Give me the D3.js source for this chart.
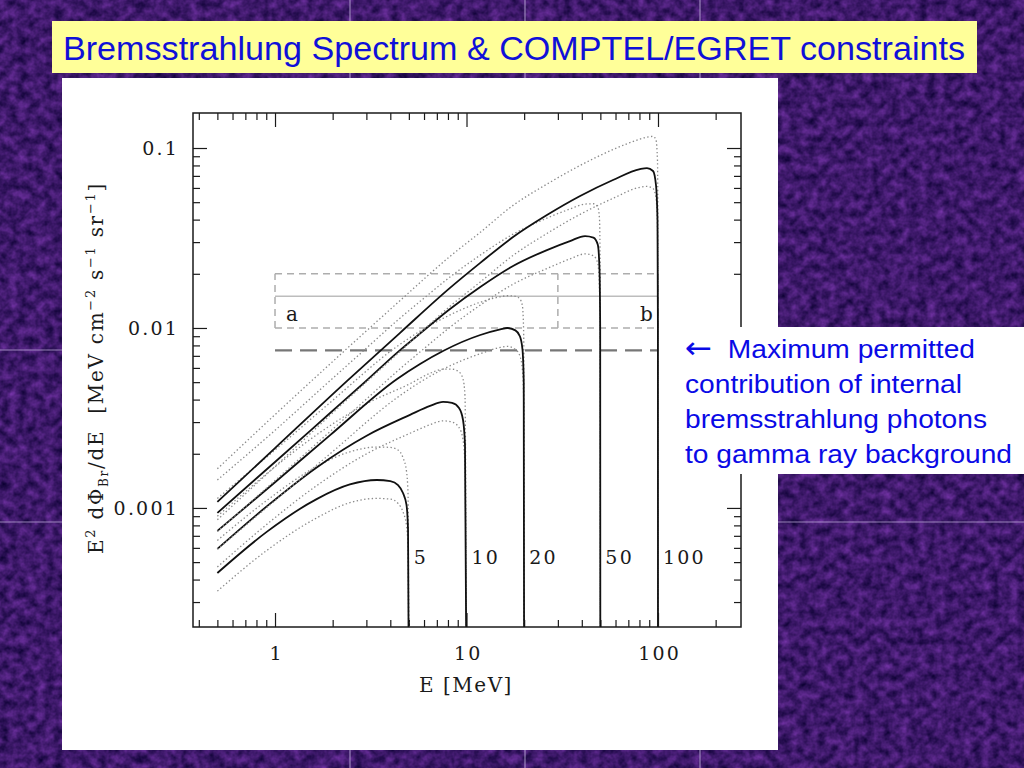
<!DOCTYPE html>
<html><head><meta charset="utf-8">
<script src="https://cdn.jsdelivr.net/npm/d3@7"></script>
<style>html,body{margin:0;padding:0;background:#3f1a6e;overflow:hidden}</style>
</head><body>
<svg id="c" width="1024" height="768"></svg>
<script>
// ---------------- data ----------------
const titleText = "Bremsstrahlung Spectrum & COMPTEL/EGRET constraints";
const noteArrow = "\u2190";
const noteLines = ["  Maximum permitted", "contribution of internal", "bremsstrahlung photons", "to gamma ray background"];

const massLabels = ["5", "10", "20", "50", "100"];
const massCutoffs = [5, 10, 20, 50, 100];

const energy5 = [0.5, 0.905, 1.65, 2.46, 3.4, 4.0, 4.39, 4.66, 4.86, 4.95, 5];
const solid5  = [0.000435, 0.000736, 0.00112, 0.00135, 0.00143, 0.00141, 0.00134, 0.00121, 0.00104, 0.00076, 0.0001];
const upper5  = [0.00066, 0.0011, 0.0017, 0.00205, 0.00218, 0.00217, 0.0021, 0.0019, 0.0016, 0.0012, 0.0001];
const lower5  = [0.000345, 0.00058, 0.00088, 0.00107, 0.00113, 0.00112, 0.00106, 0.00095, 0.0008, 0.0006, 0.0001];

const energy10 = [0.5, 0.905, 1.65, 3.01, 5.07, 6.45, 7.54, 8.4, 9.14, 9.59, 9.82, 10];
const solid10  = [0.000592, 0.00102, 0.00168, 0.00252, 0.00329, 0.00369, 0.00388, 0.00383, 0.00359, 0.00308, 0.00224, 0.0001];
const upper10  = [0.0009, 0.00155, 0.00255, 0.0038, 0.0049, 0.0056, 0.0059, 0.0059, 0.0057, 0.0052, 0.0042, 0.0001];
const lower10  = [0.00047, 0.00081, 0.00133, 0.002, 0.0026, 0.0029, 0.00305, 0.003, 0.0028, 0.0024, 0.0017, 0.0001];

const energy20 = [0.5, 1, 1.94, 4.34, 5.72, 7.54, 11.8, 15, 16.3, 18, 19, 19.6, 19.9, 20];
const solid20  = [0.000745, 0.00139, 0.00254, 0.00521, 0.00631, 0.00745, 0.00914, 0.00981, 0.01, 0.0097, 0.009, 0.0076, 0.005, 0.0001];
const upper20  = [0.00113, 0.0021, 0.00385, 0.0079, 0.0096, 0.0113, 0.0139, 0.0149, 0.0151, 0.015, 0.0145, 0.0132, 0.009, 0.0001];
const lower20  = [0.00059, 0.0011, 0.002, 0.0041, 0.005, 0.0059, 0.0072, 0.0078, 0.0079, 0.0076, 0.007, 0.0058, 0.0038, 0.0001];

const energy50 = [0.5, 1, 1.94, 2.95, 4.39, 5.93, 8.2, 11.8, 17.5, 26.3, 34.7, 41.6, 46, 48.5, 49.5, 49.9, 50];
const solid50  = [0.000938, 0.0018, 0.00337, 0.00501, 0.00736, 0.00962, 0.01275, 0.0169, 0.0221, 0.0271, 0.0304, 0.0324, 0.0318, 0.029, 0.021, 0.01, 0.0001];
const upper50  = [0.00143, 0.0027, 0.0051, 0.0076, 0.0111, 0.0145, 0.0192, 0.0254, 0.0332, 0.0408, 0.0458, 0.0488, 0.049, 0.047, 0.04, 0.02, 0.0001];
const lower50  = [0.00074, 0.00142, 0.00266, 0.00396, 0.0058, 0.0076, 0.0101, 0.0134, 0.0175, 0.0214, 0.0242, 0.0258, 0.0252, 0.0228, 0.016, 0.007, 0.0001];

const energy100 = [0.5, 1, 2.38, 4.5, 8.2, 11.8, 17.5, 26.3, 39.2, 58.2, 80.5, 87.6, 94.2, 97.6, 99.4, 99.9, 100];
const solid100  = [0.00108, 0.00215, 0.00508, 0.0094, 0.0167, 0.023, 0.032, 0.0424, 0.0541, 0.0664, 0.0764, 0.0774, 0.0745, 0.0623, 0.0398, 0.01, 0.0001];
const upper100  = [0.00165, 0.0033, 0.0077, 0.0142, 0.025, 0.034, 0.048, 0.063, 0.08, 0.098, 0.112, 0.115, 0.116, 0.111, 0.085, 0.03, 0.0001];
const lower100  = [0.00086, 0.0017, 0.004, 0.0074, 0.0132, 0.018, 0.0253, 0.0335, 0.0428, 0.0525, 0.0605, 0.0612, 0.0595, 0.053, 0.035, 0.008, 0.0001];

const xTickValues = [1, 10, 100];
const xTickLabels = ["1", "10", "100"];
const yTickValues = [0.001, 0.01, 0.1];
const yTickLabels = ["0.001", "0.01", "0.1"];

const boxEnergy = [1, 30, 100];          // box a: 1-30, box b: 30-100
const boxFlux = [0.01, 0.015, 0.02];     // bottom, middle line, top
const boxLabels = ["a", "b"];
const limitEnergy = [1, 100];
const limitFlux = 0.0075;

const series = [
  {label: massLabels[0], cutoff: massCutoffs[0], e: energy5,   s: solid5,   u: upper5,   l: lower5},
  {label: massLabels[1], cutoff: massCutoffs[1], e: energy10,  s: solid10,  u: upper10,  l: lower10},
  {label: massLabels[2], cutoff: massCutoffs[2], e: energy20,  s: solid20,  u: upper20,  l: lower20},
  {label: massLabels[3], cutoff: massCutoffs[3], e: energy50,  s: solid50,  u: upper50,  l: lower50},
  {label: massLabels[4], cutoff: massCutoffs[4], e: energy100, s: solid100, u: upper100, l: lower100}
];

// ---------------- drawing ----------------
const svg = d3.select("#c");
const defs = svg.append("defs");

// textured dark purple background
const f = defs.append("filter").attr("id", "tex").attr("filterUnits", "userSpaceOnUse")
  .attr("color-interpolation-filters", "sRGB")
  .attr("x", 0).attr("y", 0).attr("width", 1024).attr("height", 768);
f.append("feTurbulence").attr("type", "fractalNoise").attr("baseFrequency", 0.11)
  .attr("numOctaves", 3).attr("seed", 11).attr("result", "n");
f.append("feColorMatrix").attr("in", "n").attr("type", "matrix")
  .attr("values", "0.45 0 0 0 0.02  0.22 0 0 0 -0.01  0.5 0 0 0 0.17  0 0 0 0 1");
svg.append("rect").attr("width", 1024).attr("height", 768).attr("fill", "#3f1a6e").attr("filter", "url(#tex)");

// tile seams
const seamsX = [350, 525, 700], seamsY = [350, 522];
svg.selectAll(".sx").data(seamsX).enter().append("line")
  .attr("x1", d => d).attr("x2", d => d).attr("y1", 0).attr("y2", 768)
  .attr("stroke", "#b9a8d6").attr("stroke-width", 1.2).attr("opacity", 0.75);
svg.selectAll(".sy").data(seamsY).enter().append("line")
  .attr("y1", d => d).attr("y2", d => d).attr("x1", 0).attr("x2", 1024)
  .attr("stroke", "#b9a8d6").attr("stroke-width", 1.2).attr("opacity", 0.75);

// title box
svg.append("rect").attr("x", 52).attr("y", 21).attr("width", 925).attr("height", 52).attr("fill", "#ffff99");
svg.append("text").attr("x", 63).attr("y", 60)
  .attr("font-family", "Liberation Sans, Arial, sans-serif").attr("font-size", 34)
  .attr("fill", "#1010d8").attr("textLength", 902).attr("lengthAdjust", "spacingAndGlyphs")
  .text(titleText);

// white chart panel
svg.append("rect").attr("x", 62).attr("y", 78).attr("width", 716).attr("height", 672).attr("fill", "#ffffff");

// scales
const L = 193, R = 741, T = 113, B = 627;
const x = d3.scaleLog().domain([0.373, 271.3]).range([L, R]);
const y = d3.scaleLog().domain([0.000218, 0.1565]).range([B, T]);

const serif = "DejaVu Serif, serif";
const ink = "#1a1a1a";

defs.append("clipPath").attr("id", "plotclip").append("rect")
  .attr("x", L).attr("y", T).attr("width", R - L).attr("height", B - T);

// tick values
const xMinor = [], yMinor = [];
for (let d = -1; d <= 2; d++) for (let k = 2; k <= 9; k++) {
  const v = k * Math.pow(10, d);
  if (v > 0.373 && v < 271.3) xMinor.push(v);
}
const xMajor = [1, 10, 100];
for (let d = -4; d <= -1; d++) for (let k = 2; k <= 9; k++) {
  const v = k * Math.pow(10, d);
  if (v > 0.000218 && v < 0.1565) yMinor.push(v);
}
const yMajor = [0.001, 0.01, 0.1];

function styleAxis(g) {
  g.select(".domain").remove();
  g.selectAll("line").attr("stroke", ink).attr("stroke-width", 1.2);
}
// bottom
svg.append("g").attr("transform", `translate(0,${B})`)
  .call(d3.axisBottom(x).tickValues(xMinor).tickSize(-7).tickSizeOuter(0).tickFormat("")).call(styleAxis);
const gxb = svg.append("g").attr("transform", `translate(0,${B})`)
  .call(d3.axisBottom(x).tickValues(xTickValues).tickSize(-14).tickSizeOuter(0).tickPadding(0)
    .tickFormat((d, i) => xTickLabels[i])).call(styleAxis);
gxb.selectAll("text").attr("y", 33).attr("dy", 0).attr("dx", 1.2)
  .attr("font-family", serif).attr("font-size", 19).attr("letter-spacing", 2.2).attr("fill", ink);
// top
svg.append("g").attr("transform", `translate(0,${T})`)
  .call(d3.axisTop(x).tickValues(xMinor).tickSize(-7).tickSizeOuter(0).tickFormat("")).call(styleAxis);
svg.append("g").attr("transform", `translate(0,${T})`)
  .call(d3.axisTop(x).tickValues(xMajor).tickSize(-14).tickSizeOuter(0).tickFormat("")).call(styleAxis);
// left
svg.append("g").attr("transform", `translate(${L},0)`)
  .call(d3.axisLeft(y).tickValues(yMinor).tickSize(-7).tickSizeOuter(0).tickFormat("")).call(styleAxis);
const gyl = svg.append("g").attr("transform", `translate(${L},0)`)
  .call(d3.axisLeft(y).tickValues(yTickValues).tickSize(-14).tickSizeOuter(0).tickPadding(14)
    .tickFormat((d, i) => yTickLabels[i])).call(styleAxis);
gyl.selectAll("text").attr("font-family", serif).attr("font-size", 19).attr("letter-spacing", 2.2).attr("fill", ink);
// right
svg.append("g").attr("transform", `translate(${R},0)`)
  .call(d3.axisRight(y).tickValues(yMinor).tickSize(-7).tickSizeOuter(0).tickFormat("")).call(styleAxis);
svg.append("g").attr("transform", `translate(${R},0)`)
  .call(d3.axisRight(y).tickValues(yMajor).tickSize(-14).tickSizeOuter(0).tickFormat("")).call(styleAxis);

// frame
svg.append("rect").attr("x", L).attr("y", T).attr("width", R - L).attr("height", B - T)
  .attr("fill", "none").attr("stroke", ink).attr("stroke-width", 1.5);

// COMPTEL/EGRET boxes
const pg = svg.append("g").attr("clip-path", "url(#plotclip)");
const boxColor = "#adadad";
[boxFlux[0], boxFlux[2]].forEach(v => {
  pg.append("line").attr("x1", x(boxEnergy[0])).attr("x2", x(boxEnergy[2]))
    .attr("y1", y(v)).attr("y2", y(v))
    .attr("stroke", boxColor).attr("stroke-width", 1.5).attr("stroke-dasharray", "7,5");
});
boxEnergy.forEach(e => {
  pg.append("line").attr("x1", x(e)).attr("x2", x(e)).attr("y1", y(boxFlux[0])).attr("y2", y(boxFlux[2]))
    .attr("stroke", boxColor).attr("stroke-width", 1.5).attr("stroke-dasharray", "7,5");
});
pg.append("line").attr("x1", x(boxEnergy[0])).attr("x2", x(boxEnergy[2]))
  .attr("y1", y(boxFlux[1])).attr("y2", y(boxFlux[1]))
  .attr("stroke", "#bdbdbd").attr("stroke-width", 1.5);
pg.append("line").attr("x1", x(limitEnergy[0])).attr("x2", x(limitEnergy[1]))
  .attr("y1", y(limitFlux)).attr("y2", y(limitFlux))
  .attr("stroke", "#777777").attr("stroke-width", 2.2).attr("stroke-dasharray", "17,8");
svg.append("text").attr("x", x(boxEnergy[0]) + 11).attr("y", y(0.011))
  .attr("font-family", serif).attr("font-size", 20).attr("fill", ink).text(boxLabels[0]);
svg.append("text").attr("x", x(boxEnergy[2]) - 18).attr("y", y(0.011))
  .attr("font-family", serif).attr("font-size", 20).attr("fill", ink).text(boxLabels[1]);

// curves
const line = d3.line().x(d => x(d[0])).y(d => y(d[1])).curve(d3.curveMonotoneX);
series.forEach(s => {
  const up = s.e.map((e, i) => [e, s.u[i]]);
  const lo = s.e.map((e, i) => [e, s.l[i]]);
  const so = s.e.map((e, i) => [e, s.s[i]]);
  [up, lo].forEach(d => pg.append("path").attr("d", line(d)).attr("fill", "none")
    .attr("stroke", "#8a8a8a").attr("stroke-width", 1.3).attr("stroke-dasharray", "1.4,2.4"));
  pg.append("path").attr("d", line(so)).attr("fill", "none")
    .attr("stroke", "#111111").attr("stroke-width", 1.8);
  svg.append("text").attr("x", x(s.cutoff) + 5).attr("y", y(0.00049))
    .attr("font-family", serif).attr("font-size", 19).attr("letter-spacing", 2.2)
    .attr("fill", ink).text(s.label);
});

// axis titles
svg.append("text").attr("x", 466).attr("y", 692).attr("text-anchor", "middle")
  .attr("font-family", serif).attr("font-size", 20).attr("letter-spacing", 1.5).attr("fill", ink)
  .style("white-space", "pre").text("E [MeV]");

const yt = svg.append("text").attr("transform", "translate(103,368) rotate(-90)")
  .attr("text-anchor", "middle").attr("font-family", serif).attr("font-size", 20)
  .attr("fill", ink).style("white-space", "pre");
const parts = [["E", 0, 20], ["2", -8, 13], [" d\u03A6", 8, 20], ["Br", 5, 12], ["/dE  [MeV cm", -5, 20],
  ["\u22122", -8, 13], [" s", 8, 20], ["\u22121", -8, 13], [" sr", 8, 20], ["\u22121", -8, 13], ["]", 8, 20]];
parts.forEach(p => yt.append("tspan").attr("dy", p[1]).attr("font-size", p[2]).text(p[0]));
{
  const w0 = yt.node().getBBox().width;
  const n = parts.reduce((a, p) => a + p[0].length, 0);
  yt.attr("letter-spacing", Math.max(0, (372 - w0) / n));
}

// note box
svg.append("rect").attr("x", 678).attr("y", 327).attr("width", 346).attr("height", 147).attr("fill", "#ffffff");
const noteWidths = [290, 277, 302, 327];
noteLines.forEach((t, i) => {
  const tx = svg.append("text").attr("x", 685).attr("y", 358 + i * 35)
    .attr("font-family", "Liberation Sans, Arial, sans-serif").attr("font-size", 26)
    .attr("fill", "#0a0ae6").attr("textLength", noteWidths[i]).attr("lengthAdjust", "spacingAndGlyphs")
    .style("white-space", "pre");
  if (i === 0) {
    tx.append("tspan").attr("font-size", 30).attr("font-family", "DejaVu Sans, sans-serif").text(noteArrow);
    tx.append("tspan").text(t);
  } else {
    tx.text(t);
  }
});
</script>
</body></html>
